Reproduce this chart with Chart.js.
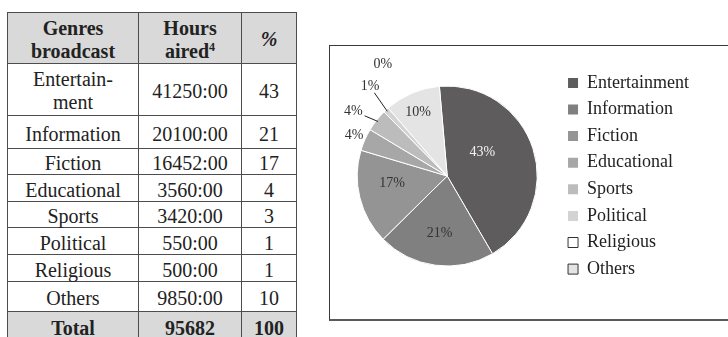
<!DOCTYPE html>
<html>
<head>
<meta charset="utf-8">
<title>Genres broadcast</title>
<script src="https://cdn.jsdelivr.net/npm/chart.js@4.4.1/dist/chart.umd.min.js"></script>
<style>
    body {
        margin: 0;
        width: 728px;
        height: 337px;
        overflow: hidden;
        position: relative;
        background: #fff;
        font-family: "Liberation Serif", "Times New Roman", serif;
        color: #222;
    }
    #genreTable {
        position: absolute;
        left: 7px;
        top: 12px;
        width: 289px;
        border-collapse: collapse;
        table-layout: fixed;
    }
    #genreTable td, #genreTable th {
        border: 1.5px solid #4d4d4d;
        text-align: center;
        vertical-align: middle;
        padding: 3px 0 0 0;
        font-size: 20px;
        line-height: 20px;
        font-weight: normal;
    }
    #genreTable th, #genreTable tr.two-line td {
        line-height: 23px;
    }
    #genreTable th, #genreTable tr.total td {
        background: #d9d9d9;
        font-weight: bold;
    }
    #genreTable th.pct {
        font-style: italic;
    }
    #genreTable sup {
        font-size: 12px;
        line-height: 0;
        vertical-align: 7px;
    }
    #pieBox {
        position: absolute;
        left: 329px;
        top: 45px;
        width: 440px;
        height: 276px;
        box-sizing: border-box;
        border-left: 1.5px solid #3a3a3a;
        border-top: 1.5px solid #3a3a3a;
        border-bottom: 2.5px solid #5a5a5a;
    }
    #pieChart {
        position: absolute;
        left: 329px;
        top: 45px;
    }
</style>
</head>
<body>
<table id="genreTable">
    <colgroup>
        <col style="width:131px">
        <col style="width:103px">
        <col style="width:55px">
    </colgroup>
    <thead></thead>
    <tbody></tbody>
</table>
<div id="pieBox"></div>
<canvas id="pieChart" width="399" height="276"></canvas>

<script>
// 表格数据
const headerCells = ['Genres<br>broadcast', 'Hours<br>aired<sup>4</sup>', '%'];
const genres = ['Entertainment', 'Information', 'Fiction', 'Educational', 'Sports', 'Political', 'Religious', 'Others'];
const hoursAired = ['41250:00', '20100:00', '16452:00', '3560:00', '3420:00', '550:00', '500:00', '9850:00'];
const tablePercent = [43, 21, 17, 4, 3, 1, 1, 10];
const totalRow = ['Total', '95682', '100'];

// 饼图数据（百分比）
const pieShares = [43, 21, 17, 4, 4, 1, 0, 10];

// 颜色
const sliceColors = ['#5e5c5d', '#808080', '#949494', '#a7a7a7', '#bcbcbc', '#d3d3d3', '#ffffff', '#e4e4e4'];
const legendOutline = [false, false, false, false, false, false, true, true];

// 行高
const rowHeights = [51, 52, 33, 26, 27, 26, 27, 27, 30, 30];

// 标签位置：dist 为半径倍数，shift 为相对扇区中线的角度偏移
const labelPlacement = [
    { dist: 0.47, shift: -16, color: '#f2f2f2' },
    { dist: 0.64, shift: 0 },
    { dist: 0.62, shift: 6 },
    { dist: 1.13, shift: 0 },
    { dist: 1.27, shift: -3.5, leader: true },
    { dist: 1.31, shift: 2, leader: true },
    { dist: 1.43, shift: 11 },
    { dist: 0.78, shift: -1.5 }
];

document.addEventListener('DOMContentLoaded', function() {
    buildTable();
    createPieChart();
});

// 生成表格
function buildTable() {
    const thead = document.querySelector('#genreTable thead');
    const tbody = document.querySelector('#genreTable tbody');

    const head = document.createElement('tr');
    head.style.height = rowHeights[0] + 'px';
    headerCells.forEach((text, i) => {
        const th = document.createElement('th');
        th.innerHTML = text;
        if (i === 2) th.className = 'pct';
        head.appendChild(th);
    });
    thead.appendChild(head);

    genres.forEach((genre, i) => {
        const tr = document.createElement('tr');
        tr.style.height = rowHeights[i + 1] + 'px';
        let name = genre;
        if (genre === 'Entertainment') {
            name = 'Entertain-<br>ment';
            tr.className = 'two-line';
        }
        tr.innerHTML = `<td>${name}</td><td>${hoursAired[i]}</td><td>${tablePercent[i]}</td>`;
        tbody.appendChild(tr);
    });

    const total = document.createElement('tr');
    total.className = 'total';
    total.style.height = rowHeights[rowHeights.length - 1] + 'px';
    total.innerHTML = totalRow.map(t => `<td>${t}</td>`).join('');
    tbody.appendChild(total);
}

// 扇区百分比标签
const sliceLabels = {
    id: 'sliceLabels',
    afterDatasetsDraw(chart) {
        const ctx = chart.ctx;
        const meta = chart.getDatasetMeta(0);
        const total = pieShares.reduce((a, b) => a + b, 0);

        ctx.save();
        ctx.font = '14px "Liberation Serif"';
        ctx.textAlign = 'center';
        ctx.textBaseline = 'middle';

        meta.data.forEach((arc, i) => {
            const p = arc.getProps(['x', 'y', 'startAngle', 'endAngle', 'outerRadius'], true);
            const place = labelPlacement[i];
            const mid = (p.startAngle + p.endAngle) / 2;
            const a = mid + place.shift * Math.PI / 180;
            const lx = p.x + Math.cos(a) * p.outerRadius * place.dist;
            const ly = p.y + Math.sin(a) * p.outerRadius * place.dist;
            const text = Math.round(pieShares[i] / total * 100) + '%';

            if (place.leader) {
                const ex = p.x + Math.cos(mid) * p.outerRadius * 0.98;
                const ey = p.y + Math.sin(mid) * p.outerRadius * 0.98;
                const dx = ex - lx, dy = ey - ly;
                const len = Math.hypot(dx, dy);
                const ux = dx / len, uy = dy / len;
                const hw = ctx.measureText(text).width / 2 + 2;
                const t = Math.min(hw / Math.abs(ux || 1e-6), 6 / Math.abs(uy || 1e-6));
                ctx.beginPath();
                ctx.moveTo(lx + ux * t, ly + uy * t);
                ctx.lineTo(ex, ey);
                ctx.strokeStyle = '#222';
                ctx.lineWidth = 1;
                ctx.stroke();
            }

            ctx.fillStyle = place.color || '#333';
            ctx.fillText(text, lx, ly);
        });
        ctx.restore();
    }
};

// 创建饼图
function createPieChart() {
    const ctx = document.getElementById('pieChart').getContext('2d');

    new Chart(ctx, {
        type: 'pie',
        data: {
            labels: genres,
            datasets: [{
                data: pieShares,
                backgroundColor: sliceColors,
                borderColor: '#ffffff',
                borderWidth: 1,
                radius: 90
            }]
        },
        options: {
            responsive: false,
            animation: false,
            events: [],
            rotation: -5,
            layout: {
                padding: { left: 6, right: 29, top: 10, bottom: 24 }
            },
            plugins: {
                legend: {
                    position: 'right',
                    labels: {
                        boxWidth: 10,
                        boxHeight: 10,
                        padding: 8.6,
                        color: '#222',
                        font: { family: 'Liberation Serif', size: 18 },
                        generateLabels: function(chart) {
                            const items = Chart.overrides.doughnut.plugins.legend.labels.generateLabels(chart);
                            items.forEach((item, i) => {
                                item.strokeStyle = legendOutline[i] ? '#333' : item.fillStyle;
                                item.lineWidth = legendOutline[i] ? 1 : 0;
                            });
                            return items;
                        }
                    }
                },
                tooltip: { enabled: false }
            }
        },
        plugins: [sliceLabels]
    });
}
</script>
</body>
</html>
